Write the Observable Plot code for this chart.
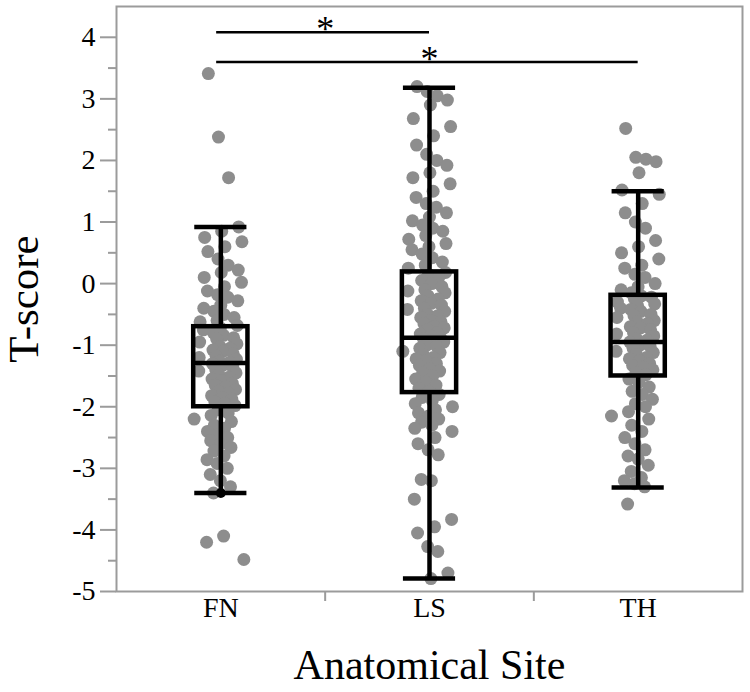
<!DOCTYPE html>
<html><head><meta charset="utf-8">
<script src="https://cdn.jsdelivr.net/npm/d3@7"></script>
<script src="https://cdn.jsdelivr.net/npm/@observablehq/plot@0.6"></script>
<style>body{margin:0;background:#fff}#chart svg{display:block}</style>
</head><body><div id="chart"></div>
<script>
const sites = ["FN", "LS", "TH"];

const fnValues = [3.41, 2.38, 1.72,
  0.92, 0.85, 0.75, 0.68, 0.6, 0.52, 0.4, 0.3, 0.22, 0.18, 0.1, 0.02, -0.05, -0.12, -0.18, -0.22, -0.28, -0.35, -0.4, -0.45, -0.5, -0.55, -0.6, -0.62, -0.68,
  -0.72, -0.75, -0.8, -0.84, -0.88, -0.9, -0.95, -0.98, -1.02, -1.05, -1.08, -1.1, -1.14, -1.18, -1.2, -1.23, -1.26, -1.28, -1.3, -1.33, -1.36, -1.4, -1.42, -1.45, -1.48, -1.52, -1.55, -1.58, -1.62, -1.65, -1.68, -1.72, -1.75, -1.78, -1.82, -1.85, -1.88, -1.92, -1.95, -1.98,
  -2.05, -2.1, -2.14, -2.2, -2.24, -2.3, -2.35, -2.4, -2.46, -2.5, -2.55, -2.6, -2.66, -2.72, -2.8, -2.86, -2.92, -3.0, -3.1, -3.2, -3.3, -3.4,
  -4.1, -4.2, -4.48];

const lsValues = [3.2, 3.12, 3.05, 2.98, 2.9, 2.68, 2.55, 2.4, 2.25, 2.1, 2.0, 1.92, 1.8, 1.72, 1.62, 1.5, 1.4, 1.3, 1.24, 1.15, 1.08, 1.02, 0.95, 0.9, 0.85, 0.78, 0.72, 0.65, 0.6, 0.55, 0.48, 0.42, 0.35, 0.3, 0.25,
  0.18, 0.15, 0.1, 0.05, 0.0, -0.05, -0.1, -0.12, -0.15, -0.2, -0.25, -0.28, -0.32, -0.35, -0.4, -0.42, -0.45, -0.5, -0.52, -0.55, -0.6, -0.62, -0.65, -0.7, -0.72, -0.75, -0.8, -0.82, -0.85, -0.88, -0.9, -0.92, -0.95, -1.0, -1.02, -1.05, -1.1, -1.12, -1.15, -1.2, -1.22, -1.25, -1.3, -1.33, -1.38, -1.42, -1.45, -1.5, -1.55, -1.6, -1.65, -1.7, -1.75,
  -1.8, -1.85, -1.9, -1.95, -2.0, -2.05, -2.1, -2.15, -2.2, -2.25, -2.3, -2.35, -2.4, -2.5, -2.6, -2.7, -2.78, -3.18, -3.2, -3.5, -3.83, -3.95, -4.05, -4.27, -4.35, -4.7, -4.79];

const thValues = [2.52, 2.05, 2.02, 1.98, 1.8, 1.52, 1.45, 1.3, 1.15, 1.0, 0.9, 0.7, 0.6, 0.5, 0.4, 0.3, 0.25, 0.15, 0.1, 0.0, -0.05, -0.1, -0.15,
  -0.2, -0.22, -0.25, -0.3, -0.33, -0.36, -0.4, -0.42, -0.45, -0.5, -0.52, -0.55, -0.6, -0.62, -0.65, -0.7, -0.72, -0.75, -0.8, -0.82, -0.85, -0.9, -0.92, -0.95, -1.0, -1.02, -1.05, -1.1, -1.12, -1.15, -1.2, -1.22, -1.25, -1.3, -1.33, -1.36, -1.4, -1.45, -1.48,
  -1.55, -1.6, -1.68, -1.75, -1.8, -1.88, -1.95, -2.0, -2.08, -2.15, -2.2, -2.3, -2.4, -2.5, -2.6, -2.7, -2.8, -2.85, -2.95, -3.05, -3.15, -3.2, -3.25, -3.3, -3.58];

// Box statistics per site
const boxQ1 = [-2.0, -1.77, -1.5];
const boxMedian = [-1.29, -0.88, -0.95];
const boxQ3 = [-0.7, 0.19, -0.19];
const whiskerLow = [-3.4, -4.79, -3.31];
const whiskerHigh = [0.92, 3.18, 1.5];

// Highlighted point on FN lower whisker
const markedSite = ["FN"];
const markedValue = [-3.4];

// Significance brackets
const sigFrom = ["FN", "FN"];
const sigTo = ["LS", "TH"];
const sigLevel = [4.08, 3.6];
const sigLabel = ["*", "*"];

const yMajorTicks = [-5, -4, -3, -2, -1, 0, 1, 2, 3, 4];
const yMinorTicks = [-4.5, -3.5, -2.5, -1.5, -0.5, 0.5, 1.5, 2.5, 3.5];
const xTitle = "Anatomical Site";
const yTitle = "T-score";

// ---- build tables ----
const idx = s => sites.indexOf(s);
const frac = v => v - Math.floor(v);
const jitter = i => (frac(i * 0.6180339887 + 0.13) + frac(i * 0.7548776662 + 0.41) - 1) * 0.13;

const groups = [fnValues, lsValues, thValues];
const points = [];
groups.forEach((vals, g) => vals.forEach((v, i) => points.push({site: sites[g], value: v, j: jitter(i)})));

const stats = sites.map((s, i) => ({site: s, q1: boxQ1[i], median: boxMedian[i], q3: boxQ3[i], lo: whiskerLow[i], hi: whiskerHigh[i]}));
const marked = markedSite.map((s, i) => ({site: s, value: markedValue[i]}));
const sig = sigFrom.map((f, i) => ({from: f, to: sigTo[i], level: sigLevel[i], label: sigLabel[i]}));

const hw = 0.13;   // half box width (x units)
const cw = 0.125;  // half cap width
const axisGray = "#9b9b9b";
const serif = "'Liberation Serif', 'Times New Roman', serif";

const chart = Plot.plot({
  width: 750,
  height: 692,
  marginLeft: 116,
  marginRight: 8,
  marginTop: 6,
  marginBottom: 101,
  style: {fontFamily: serif, fontSize: "28px", background: "#fff", color: "#000"},
  x: {type: "linear", domain: [-0.5, 2.5], axis: null},
  y: {domain: [-5, 4.5], axis: null},
  marks: [
    Plot.dot(points, {x: d => idx(d.site) + d.j, y: "value", r: 6.5, fill: "#8d8d8d", stroke: "none"}),
    Plot.ruleX(stats, {x: d => idx(d.site), y1: "lo", y2: "q1", stroke: "#000", strokeWidth: 4.5}),
    Plot.ruleX(stats, {x: d => idx(d.site), y1: "q3", y2: "hi", stroke: "#000", strokeWidth: 4.5}),
    Plot.ruleY(stats, {y: "lo", x1: d => idx(d.site) - cw, x2: d => idx(d.site) + cw, stroke: "#000", strokeWidth: 4.5}),
    Plot.ruleY(stats, {y: "hi", x1: d => idx(d.site) - cw, x2: d => idx(d.site) + cw, stroke: "#000", strokeWidth: 4.5}),
    Plot.rect(stats, {x1: d => idx(d.site) - hw, x2: d => idx(d.site) + hw, y1: "q1", y2: "q3", fill: "none", stroke: "#000", strokeWidth: 4.5}),
    Plot.ruleY(stats, {y: "median", x1: d => idx(d.site) - hw, x2: d => idx(d.site) + hw, stroke: "#000", strokeWidth: 4.5}),
    Plot.dot(marked, {x: d => idx(d.site), y: "value", r: 5, fill: "#000"}),
    Plot.ruleY(sig, {y: "level", x1: d => idx(d.from) - 0.02, x2: d => idx(d.to), stroke: "#000", strokeWidth: 2.5}),
    Plot.text(sig, {x: d => (idx(d.from) + idx(d.to)) / 2, y: "level", text: "label", fontSize: 36, lineAnchor: "bottom", dy: 9, fill: "#000"}),
    Plot.frame({stroke: axisGray, strokeWidth: 2}),
    Plot.axisY({ticks: yMajorTicks, tickSize: 16, tickPadding: 5, tickFormat: d => String(d), stroke: axisGray, strokeWidth: 2, fill: "#000", label: null}),
    Plot.axisY({ticks: yMinorTicks, tickSize: 8, tickFormat: () => "", stroke: axisGray, strokeWidth: 2, label: null}),
    Plot.axisX({ticks: [0.5, 1.5], tickSize: 10, tickFormat: () => "", stroke: axisGray, strokeWidth: 2, label: null}),
    Plot.axisX({ticks: [0, 1, 2], tickSize: 0, tickPadding: 6, tickFormat: i => sites[i], fill: "#000", label: null}),
    Plot.text([xTitle], {x: [1], frameAnchor: "bottom", dy: 74, text: d => d, fontSize: 42, lineAnchor: "middle", fill: "#000"}),
    Plot.text([yTitle], {frameAnchor: "left", dx: -92, text: d => d, fontSize: 43, rotate: -90, textAnchor: "middle", lineAnchor: "middle", fill: "#000"})
  ]
});
document.getElementById("chart").appendChild(chart);
</script>
</body></html>
